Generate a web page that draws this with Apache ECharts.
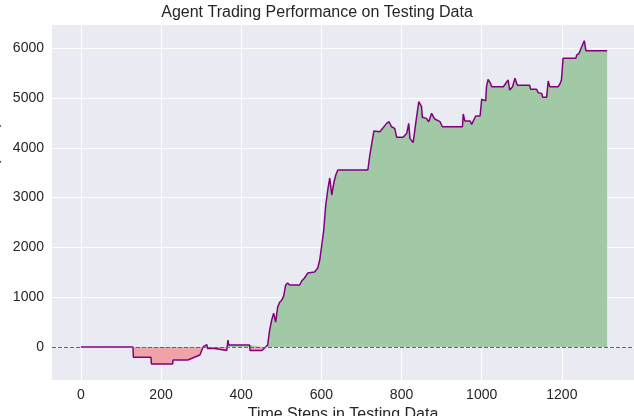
<!DOCTYPE html>
<html><head><meta charset="utf-8">
<script src="https://cdn.jsdelivr.net/npm/echarts@6/dist/echarts.min.js"></script>
<style>html,body{margin:0;padding:0;background:#fff}#c{width:634px;height:416px}</style>
</head><body><div id="c"></div>
<script>
const steps = [0,130,131,175,176,229,230,267,268,297,305,314,316,334,335,364,367,369,421,422,452,466,471,476,481,486,491,496,501,506,511,516,521,546,551,558,566,583,591,596,601,606,611,616,621,626,631,636,641,716,721,726,731,746,763,769,775,783,788,804,813,818,821,829,836,843,850,852,862,868,875,883,896,902,952,954,958,971,975,985,996,1000,1010,1012,1016,1022,1025,1054,1058,1066,1070,1077,1083,1087,1089,1120,1122,1137,1141,1150,1152,1162,1166,1170,1191,1195,1199,1203,1235,1237,1243,1248,1252,1256,1260,1313];
const pnl = [0,0,-208,-208,-342,-342,-261,-261,-228,-160,0,50,-30,-30,-70,-70,140,40,40,-70,-70,40,340,540,680,500,800,900,940,1020,1245,1285,1245,1245,1325,1385,1485,1505,1586,1747,2048,2350,2851,3153,3394,3052,3293,3454,3554,3554,3855,4096,4337,4323,4490,4524,4423,4390,4210,4210,4290,4490,4190,4103,4524,4925,4825,4612,4591,4524,4692,4578,4524,4423,4423,4679,4538,4538,4471,4638,4638,4974,4946,5227,5375,5295,5227,5227,5261,5361,5160,5227,5395,5361,5254,5254,5174,5174,5107,5093,5013,5013,5341,5227,5227,5281,5361,5797,5797,5863,5897,5998,6031,6151,5950,5950];
const xTicks = [0,200,400,600,800,1000,1200];
const yTicks = [0,1000,2000,3000,4000,5000,6000];

const line = steps.map((x,i)=>[x,pnl[i]]);
const pos=[],neg=[];
for(let i=0;i<line.length;i++){
  const [x,y]=line[i];
  if(i>0){const [x0,y0]=line[i-1];
    if((y0>0&&y<0)||(y0<0&&y>0)){const xc=x0+(x-x0)*(-y0)/(y-y0);pos.push([xc,0]);neg.push([xc,0]);}}
  pos.push([x,Math.max(y,0)]);neg.push([x,Math.min(y,0)]);
}
const chart = echarts.init(document.getElementById('c'));
const font='"Liberation Sans", Arial, sans-serif';
chart.setOption({
  animation:false,
  backgroundColor:'#fff',
  title:{text:'Agent Trading Performance on Testing Data',left:'center',top:0,
    textStyle:{fontFamily:font,fontSize:16,fontWeight:'normal',color:'#262626'}},
  grid:{left:52,right:0,top:25,bottom:36,show:true,backgroundColor:'#eaeaf2',borderWidth:0,
    containLabel:false,outerBoundsMode:'none'},
  xAxis:{type:'value',min:-72,max:1380,
    axisLine:{show:false},axisTick:{show:false,customValues:xTicks},
    splitLine:{lineStyle:{color:'#fff',width:1}},
    axisLabel:{fontFamily:font,fontSize:14,color:'#262626',margin:8,
      customValues:xTicks,formatter:v=>String(v)},
    name:'Time Steps in Testing Data',nameLocation:'middle',nameGap:21,
    nameTextStyle:{fontFamily:font,fontSize:16,color:'#262626'}},
  yAxis:{type:'value',min:-663,max:6466,
    axisLine:{show:false},axisTick:{show:false,customValues:yTicks},
    splitLine:{lineStyle:{color:'#fff',width:1}},
    axisLabel:{fontFamily:font,fontSize:14,color:'#262626',margin:8,customValues:yTicks,formatter:v=>String(v)},
    name:'Cumulative PnL (USD)',nameLocation:'middle',nameGap:42,
    nameTextStyle:{fontFamily:font,fontSize:16,color:'#262626'}},
  series:[
    {type:'line',data:pos,symbol:'none',lineStyle:{width:0},areaStyle:{color:'#a2c9a6',opacity:1,origin:0},z:1},
    {type:'line',data:neg,symbol:'none',lineStyle:{width:0},areaStyle:{color:'#efa3a8',opacity:1,origin:0},z:1},
    {type:'line',data:line,symbol:'none',lineStyle:{color:'#800080',width:1.5},z:3,
      markLine:{silent:true,symbol:'none',label:{show:false},
        lineStyle:{color:'#666',type:'dashed',width:1},data:[{yAxis:0}]}}
  ]
});
</script></body></html>
